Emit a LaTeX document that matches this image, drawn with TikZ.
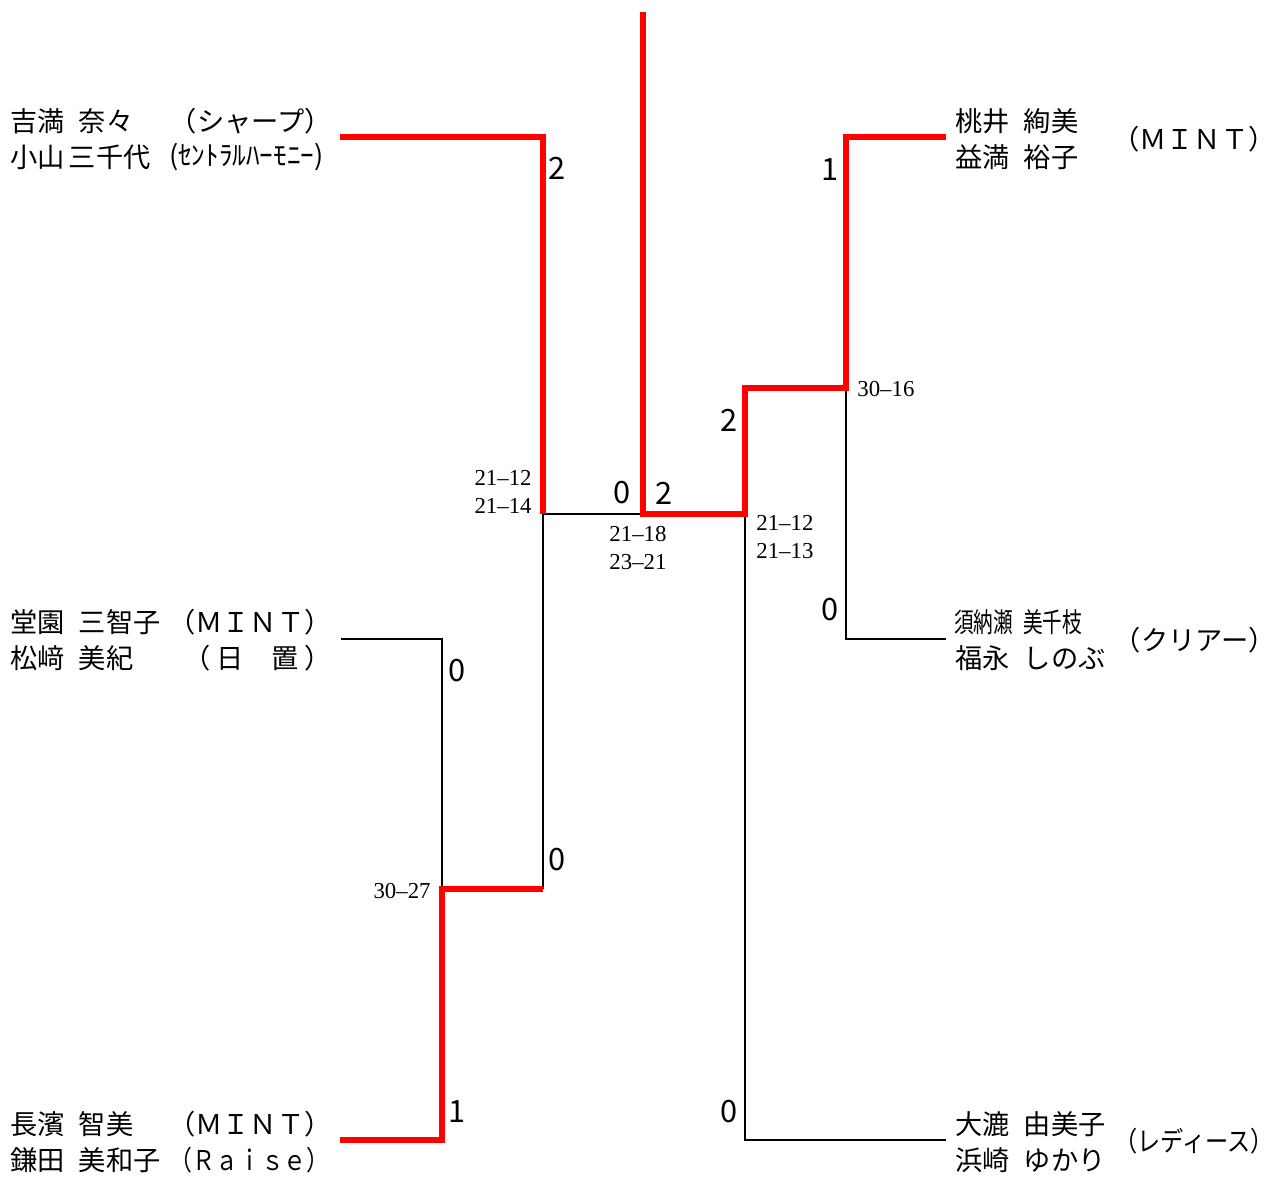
\documentclass[tikz,border=0pt]{standalone}
\usepackage{fontspec}
\usepackage{graphicx}
\setmainfont{Liberation Serif}
\newfontfamily\jp{Noto Sans CJK JP}
\newcommand\gap{\hspace{0.52em}}
\begin{document}
\begin{tikzpicture}[x=0.02cm,y=-0.02cm,
  win/.style={red,line width=3pt,line join=miter},
  lose/.style={black,line width=0.6pt},
  player/.style={inner sep=0pt,font=\jp\fontsize{15.5}{18}\selectfont},
  pt/.style={inner sep=0pt,font=\jp\fontsize{17.5}{20}\selectfont},
  res/.style={inner sep=0pt,align=center,font=\fontsize{13}{15.5}\selectfont}]
\useasboundingbox (0,0) rectangle (1274,1178);
\coordinate (p1) at (340,137); \coordinate (j1) at (543,137);
\coordinate (p2) at (341,639); \coordinate (j2) at (442,639);
\coordinate (p3) at (340,1140); \coordinate (j3) at (442,1140);
\coordinate (m1) at (442,889); \coordinate (m1r) at (543,889);
\coordinate (s1) at (543,514); \coordinate (f) at (643,514);
\coordinate (top) at (643,12); \coordinate (s2) at (745,514);
\coordinate (r1) at (745,388); \coordinate (m2) at (846,388);
\coordinate (q1) at (846,137); \coordinate (e1) at (946,137);
\coordinate (q2) at (846,639); \coordinate (e2) at (946,639);
\coordinate (q3) at (745,1140); \coordinate (e3) at (946,1140);
\draw[lose] (p2) -- (j2) -- (m1);
\draw[lose] (m1r) -- (s1) -- (f);
\draw[lose] (m2) -- (q2) -- (e2);
\draw[lose] (s2) -- (q3) -- (e3);
\draw[win] (p1) -- (j1) -- (s1);
\draw[win] (p3) -- (j3) -- (m1) -- (m1r);
\draw[win] (top) -- (f) -- (s2) -- (r1) -- (m2) -- (q1) -- (e1);
\node[player,anchor=west] (yoshi) at (10,121) {吉満\gap 奈々};
\node[player,anchor=east] (yoshi-t) at (332,121) {（シャープ）};
\node[player,anchor=west] (koya) at (10,157) {小山\hspace{0.15em}三千代};
\node[player,anchor=east] (koya-t) at (324,157) {(ｾﾝﾄﾗﾙﾊｰﾓﾆｰ)};
\node[player,anchor=west] (dou) at (10,622) {堂園\gap 三智子};
\node[player,anchor=east] (dou-t) at (332,622) {（ＭＩＮＴ）};
\node[player,anchor=west] (matsu) at (10,658) {松﨑\gap 美紀};
\node[player,anchor=east] (matsu-t) at (332,658) {（ 日　置 ）};
\node[player,anchor=west] (naga) at (10,1124) {長濱\gap 智美};
\node[player,anchor=east] (naga-t) at (332,1124) {（ＭＩＮＴ）};
\node[player,anchor=west] (kama) at (10,1160) {鎌田\gap 美和子};
\node[player,anchor=east] (kama-t) at (330,1160) {\scalebox{0.84}[1]{（Ｒａｉｓｅ）}};
\node[player,anchor=west] (momo) at (955,121) {桃井\gap 絢美};
\node[player,anchor=west] (masu) at (955,157) {益満\gap 裕子};
\node[player,anchor=east] (momo-t) at (1276,139) {（ＭＩＮＴ）};
\node[player,anchor=west] (suno) at (954,622) {\scalebox{0.72}[1]{須納瀬\gap 美千枝}};
\node[player,anchor=west] (fuku) at (955,658) {福永\gap しのぶ};
\node[player,anchor=east] (suno-t) at (1276,640) {（クリアー）};
\node[player,anchor=west] (oro) at (955,1124) {大漉\gap 由美子};
\node[player,anchor=west] (hama) at (955,1160) {浜崎\gap ゆかり};
\node[player,anchor=east] (oro-t) at (1274,1141) {\scalebox{0.85}[1]{（レディース）}};
\node[pt] (a1) at (557,168) {2};
\node[pt] (a2) at (457,671) {0};
\node[pt] (a3) at (457,1112) {1};
\node[pt] (a4) at (557,860) {0};
\node[pt] (a5) at (622,493) {0};
\node[pt] (a6) at (664,493) {2};
\node[pt] (a7) at (729,420) {2};
\node[pt] (a8) at (830,170) {1};
\node[pt] (a9) at (830,610) {0};
\node[pt] (a10) at (729,1112) {0};
\node[res,anchor=east,align=right] (g1) at (532,492) {21--12\\21--14};
\node[res] (g2) at (638,548) {21--18\\23--21};
\node[res,anchor=west,align=left] (g3) at (756,537) {21--12\\21--13};
\node[res,anchor=east] (g4) at (431,891) {30--27};
\node[res,anchor=west] (g5) at (857,389) {30--16};
\end{tikzpicture}
\end{document}
